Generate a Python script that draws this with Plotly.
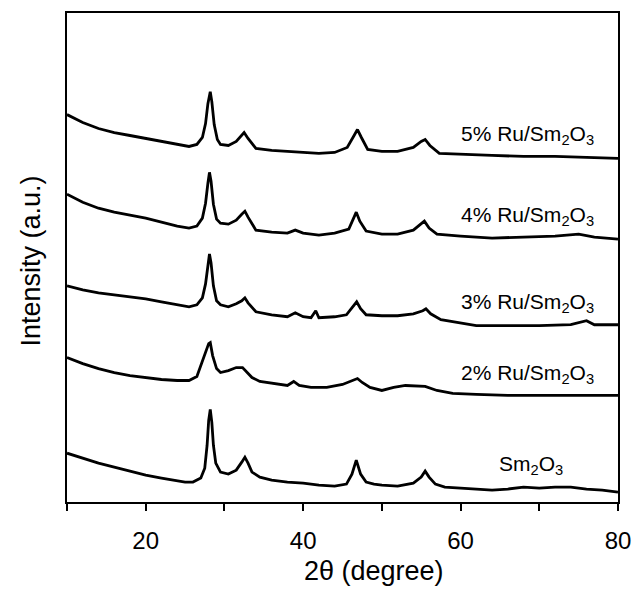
import plotly.graph_objects as go

# 2theta (degree) sample positions and intensities (a.u.) for each pattern
x_sm = [10, 12, 14, 16, 18, 20, 22, 24, 25, 26, 27, 27.5, 27.8, 28.0, 28.2, 28.4, 28.6, 28.9, 29.5, 30.5,
        31.5, 32.2, 32.6, 33.0, 33.5, 34.5, 36, 38, 40, 42, 44, 45.5, 46.2, 46.75, 47.3, 48, 49, 50, 52, 54,
        55, 55.5, 56, 56.8, 58, 60, 62, 64, 66, 68, 70, 72, 74, 76, 78, 80]
y_sm = [49, 44, 39, 35, 31, 27, 24, 21, 20, 20, 24, 34, 57, 82, 93, 80, 57, 39, 30, 28,
        32, 40, 45, 39, 30, 25, 22, 20, 19, 17, 16, 18, 28, 42, 28, 20, 18, 17, 16, 19,
        25, 31, 25, 18, 15, 14, 13, 12, 13, 15, 14, 15, 15, 13, 12, 10]

x_2 = [10, 12, 14, 16, 18, 20, 22, 24, 25.5, 26.5, 27.2, 27.6, 28.0, 28.2, 28.5, 29.0, 29.5, 30.5, 31.5, 32.3,
       32.8, 33.5, 34.5, 36, 38, 38.8, 39.5, 41, 43, 45, 46.3, 46.9, 47.5, 48.5, 50, 51.5, 53, 54.5, 55.5, 57,
       59, 62, 66, 70, 74, 80]
y_2 = [145, 139, 134, 130, 127, 125, 123, 122, 122, 126, 142, 151, 159, 160, 147, 134, 130, 132, 135, 135,
       131, 125, 121, 119, 117, 121, 117, 115, 115, 118, 122, 124, 120, 115, 112, 115, 117, 116, 116, 112,
       109, 108, 107, 107, 107, 107]

x_3 = [10, 12, 14, 16, 18, 20, 22, 24, 25.5, 26.5, 27.2, 27.6, 27.9, 28.1, 28.3, 28.6, 29.0, 29.5, 30.5, 31.5,
       32.2, 32.6, 33.0, 34, 36, 38, 39, 40, 41, 41.6, 42, 44, 45.5, 46.3, 46.8, 47.3, 48, 50, 52, 54,
       55.2, 55.6, 56.2, 57.5, 60, 62, 66, 70, 74, 76, 77, 80]
y_3 = [217, 213, 210, 208, 206, 204, 201, 198, 196, 198, 205, 219, 240, 249, 240, 217, 202, 198, 196, 199,
       202, 205, 200, 191, 188, 186, 190, 186, 185, 192, 185, 186, 188, 196, 201, 194, 188, 187, 187, 189,
       192, 194, 189, 183, 180, 177, 177, 177, 178, 182, 178, 178]

x_4 = [10, 12, 14, 16, 18, 20, 22, 24, 25.5, 26.5, 27.2, 27.6, 27.9, 28.1, 28.3, 28.6, 29.0, 29.5, 30.5, 31.5,
       32.2, 32.6, 33.0, 34, 36, 38, 39, 40, 42, 44, 45.8, 46.4, 46.75, 47.2, 48, 50, 52, 54, 55.0, 55.4,
       56.0, 57, 60, 64, 68, 72, 75, 77, 80]
y_4 = [309, 301, 295, 291, 288, 285, 281, 277, 275, 277, 285, 300, 320, 331, 322, 299, 284, 280, 279, 283,
       289, 292, 286, 273, 271, 270, 273, 270, 268, 270, 274, 284, 291, 282, 272, 269, 269, 273, 280, 282,
       275, 269, 267, 265, 266, 267, 269, 266, 264]

x_5 = [10, 12, 14, 16, 18, 20, 22, 24, 25.5, 26.5, 27.2, 27.6, 27.9, 28.2, 28.4, 28.7, 29.1, 29.5, 30.5, 31.5,
       32.1, 32.5, 33.0, 34, 36, 38, 40, 42, 44, 45.6, 46.4, 46.9, 47.4, 48.2, 50, 52, 54, 55.0, 55.5, 56.1,
       57.3, 60, 64, 68, 72, 76, 80]
y_5 = [389, 381, 375, 371, 368, 365, 362, 359, 357, 359, 366, 380, 400, 412, 402, 379, 364, 359, 358, 362,
       368, 371, 365, 355, 353, 352, 351, 350, 351, 356, 367, 374, 366, 354, 352, 352, 356, 362, 364, 358,
       350, 349, 348, 347, 347, 346, 345]

series_x = [x_sm, x_2, x_3, x_4, x_5]
series_y = [y_sm, y_2, y_3, y_4, y_5]
labels = ["Sm<sub>2</sub>O<sub>3</sub>", "2% Ru/Sm<sub>2</sub>O<sub>3</sub>", "3% Ru/Sm<sub>2</sub>O<sub>3</sub>",
          "4% Ru/Sm<sub>2</sub>O<sub>3</sub>", "5% Ru/Sm<sub>2</sub>O<sub>3</sub>"]
label_x = [73.25, 77.2, 77.2, 77.2, 77.2]
label_y = [37, 129, 200, 287, 369]

tick_vals = [10, 20, 30, 40, 50, 60, 70, 80]
tick_text = ["", "20", "", "40", "", "60", "", "80"]

x_title = "2θ (degree)"
y_title = "Intensity (a.u.)"

FONT = "Liberation Sans, Arial, sans-serif"

fig = go.Figure()
for xs, ys in zip(series_x, series_y):
    fig.add_trace(go.Scatter(x=xs, y=ys, mode="lines",
                             line=dict(color="black", width=2.8), showlegend=False, hoverinfo="skip"))

for txt, lx, ly in zip(labels, label_x, label_y):
    fig.add_annotation(x=lx, y=ly, text=txt, showarrow=False, xanchor="right", yanchor="middle",
                       font=dict(family=FONT, size=21, color="black"))

# axis titles placed as annotations (the x title sits right of centre in the reference)
fig.add_annotation(x=49, y=-0.1405, xref="x", yref="paper", text=x_title, showarrow=False,
                   xanchor="center", yanchor="middle", font=dict(family=FONT, size=27, color="black"))
fig.add_annotation(x=-0.066, y=0.493, xref="paper", yref="paper", text=y_title, showarrow=False,
                   textangle=-90, xanchor="center", yanchor="middle",
                   font=dict(family=FONT, size=27, color="black"))

fig.update_layout(
    width=642, height=590,
    margin=dict(l=67, r=16, t=11, b=88),
    paper_bgcolor="white", plot_bgcolor="white",
    font=dict(family=FONT, color="black"),
    xaxis=dict(range=[10, 80], tickvals=tick_vals, ticktext=tick_text,
               ticks="outside", ticklen=7, tickwidth=1.5, tickcolor="black",
               showline=True, linecolor="black", linewidth=1.5, mirror=True,
               showgrid=False, zeroline=False, tickfont=dict(size=24),
               ticklabelstandoff=9),
    yaxis=dict(range=[0, 491], showticklabels=False, ticks="",
               showline=True, linecolor="black", linewidth=1.5, mirror=True,
               showgrid=False, zeroline=False),
)

fig.write_html("out.html")
